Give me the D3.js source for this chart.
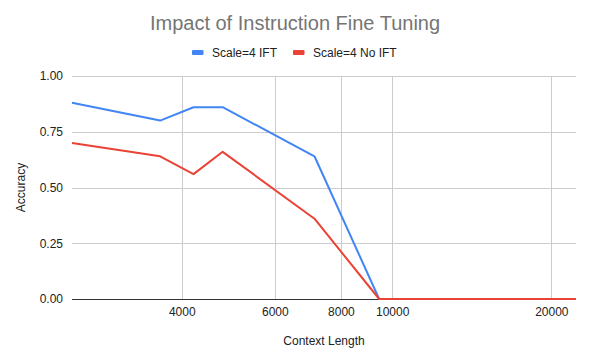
<!DOCTYPE html>
<html>
<head>
<meta charset="utf-8">
<script src="https://cdn.jsdelivr.net/npm/d3@7"></script>
<style>
  html, body { margin: 0; padding: 0; background: #fff; }
  svg { display: block; font-family: Arial, "Liberation Sans", sans-serif; }
</style>
</head>
<body>
<svg id="chart" width="590" height="362"></svg>
<script>
const contextLengths = [2480, 3640, 4210, 4780, 7130, 9450, 22270];
const iftAccuracy    = [0.88, 0.80, 0.86, 0.86, 0.64, 0.00, 0.00];
const noIftAccuracy  = [0.70, 0.64, 0.56, 0.66, 0.36, 0.00, 0.00];
const seriesNames = ["Scale=4 IFT", "Scale=4 No IFT"];
const seriesColors = ["#4285F4", "#EA4335"];
const xTickValues = [4000, 6000, 8000, 10000, 20000];
const yTickValues = [0, 0.25, 0.5, 0.75, 1.0];

const svg = d3.select("#chart");
const margin = { left: 72, right: 14, top: 76, bottom: 63 };
const W = 590, H = 362;

const x = d3.scaleLog()
  .domain(d3.extent(contextLengths))
  .range([margin.left, W - margin.right]);
const y = d3.scaleLinear()
  .domain([0, 1])
  .range([H - margin.bottom, margin.top]);

// gridlines
svg.append("g").selectAll("line.hg").data(yTickValues.filter(d => d > 0)).join("line")
  .attr("x1", margin.left).attr("x2", W - margin.right)
  .attr("y1", d => Math.round(y(d)) + 0.5).attr("y2", d => Math.round(y(d)) + 0.5)
  .attr("stroke", "#cccccc").attr("stroke-width", 1);
svg.append("g").selectAll("line.vg").data(xTickValues).join("line")
  .attr("x1", d => Math.round(x(d)) + 0.5).attr("x2", d => Math.round(x(d)) + 0.5)
  .attr("y1", margin.top).attr("y2", H - margin.bottom)
  .attr("stroke", "#cccccc").attr("stroke-width", 1);

// y axis labels
const yAxis = d3.axisLeft(y).tickValues(yTickValues).tickFormat(d3.format(".2f")).tickSize(0).tickPadding(9);
const gy = svg.append("g").attr("transform", `translate(${margin.left},0)`).call(yAxis);
gy.select(".domain").remove();
gy.selectAll("text").attr("font-size", 12).attr("fill", "#222").attr("font-family", "Arial, 'Liberation Sans', sans-serif");

// x axis labels
const xAxis = d3.axisBottom(x).tickValues(xTickValues).tickFormat(d3.format("d")).tickSize(0).tickPadding(8);
const gx = svg.append("g").attr("transform", `translate(0,${H - margin.bottom})`).call(xAxis);
gx.select(".domain").remove();
gx.selectAll("text").attr("font-size", 12).attr("fill", "#222").attr("font-family", "Arial, 'Liberation Sans', sans-serif");

// baseline
svg.append("line")
  .attr("x1", margin.left).attr("x2", W - margin.right)
  .attr("y1", Math.round(y(0)) + 0.5).attr("y2", Math.round(y(0)) + 0.5)
  .attr("stroke", "#333").attr("stroke-width", 1);

// lines
const line = d3.line().x((d, i) => x(contextLengths[i])).y(d => y(d));
[iftAccuracy, noIftAccuracy].forEach((vals, k) => {
  svg.append("path").datum(vals)
    .attr("d", line)
    .attr("fill", "none")
    .attr("stroke", seriesColors[k])
    .attr("stroke-width", 2)
    .attr("stroke-linejoin", "round");
});

// title
svg.append("text")
  .attr("x", 295).attr("y", 30)
  .attr("text-anchor", "middle")
  .attr("font-size", 20)
  .attr("fill", "#757575")
  .text("Impact of Instruction Fine Tuning");

// legend
const legendItems = [
  { mx: 192, tx: 212 },
  { mx: 293, tx: 313 }
];
legendItems.forEach((it, k) => {
  svg.append("rect").attr("x", it.mx).attr("y", 50).attr("width", 11.5).attr("height", 5)
    .attr("rx", 1).attr("fill", seriesColors[k]);
  svg.append("text").attr("x", it.tx).attr("y", 56.5)
    .attr("font-size", 12).attr("fill", "#222")
    .text(seriesNames[k]);
});

// axis titles
svg.append("text")
  .attr("x", (margin.left + W - margin.right) / 2).attr("y", 345)
  .attr("text-anchor", "middle").attr("font-size", 12).attr("fill", "#222")
  .text("Context Length");
svg.append("text")
  .attr("transform", `translate(25,${(margin.top + H - margin.bottom) / 2}) rotate(-90)`)
  .attr("text-anchor", "middle").attr("font-size", 12).attr("fill", "#222")
  .text("Accuracy");
</script>
</body>
</html>
